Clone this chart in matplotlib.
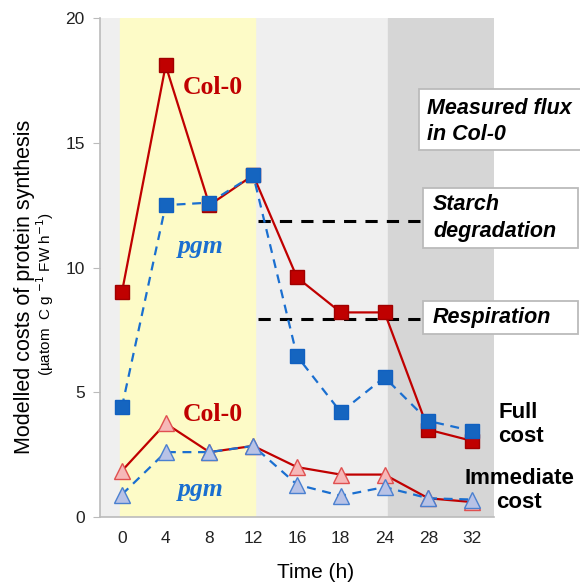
import matplotlib
matplotlib.use("Agg")
import matplotlib.pyplot as plt
from matplotlib.patches import Rectangle
import numpy as np

times = ["0", "4", "8", "12", "16", "18", "24", "28", "32"]
col0_full = [9.0, 18.1, 12.5, 13.7, 9.6, 8.2, 8.2, 3.5, 3.05]
pgm_full = [4.4, 12.5, 12.6, 13.7, 6.45, 4.2, 5.6, 3.85, 3.45]
col0_imm = [1.85, 3.75, 2.6, 2.85, 2.0, 1.7, 1.7, 0.75, 0.6]
pgm_imm = [0.9, 2.6, 2.6, 2.85, 1.3, 0.85, 1.2, 0.75, 0.7]
starch_level = 11.86
resp_level = 7.94

plt.rcParams['font.family'] = ['Liberation Sans', 'DejaVu Sans']

W, H = 580, 586
fig = plt.figure(figsize=(5.8, 5.86), dpi=100)
ax = fig.add_axes([100/W, 1-517/H, 394/W, (517-18)/H])

def fx(px):
    return px / W

def fy(py):
    return 1 - py / H

x = np.arange(len(times))
ax.set_xlim(-0.5, 8.5)
ax.set_ylim(0, 20)

ax.axvspan(-0.5, 8.5, color='#efefef', zorder=0)
ax.axvspan(-0.05, 3.03, color='#fdfbc7', zorder=0.5)
ax.axvspan(6.08, 8.5, color='#d6d6d6', zorder=0.5)

red = '#c00000'
blue = '#1a6fd0'

ax.hlines([starch_level, resp_level], 3.11, 6.9, colors='black', linestyles=(0, (4, 3)), lw=2.2, zorder=2,
          clip_on=False)

ax.plot(x, col0_full, color=red, lw=1.6, marker='s', ms=10, mfc=red, mec='#a00000', zorder=3)
ax.plot(x, pgm_full, color=blue, lw=1.6, ls=(0, (4, 3)), marker='s', ms=10, mfc='#1565c0', mec='#1060c0', zorder=4)
ax.plot(x, col0_imm, color=red, lw=1.6, marker='^', ms=12, mfc='#f6b8b8', mec='#e05050', zorder=3)
ax.plot(x, pgm_imm, color=blue, lw=1.6, ls=(0, (4, 3)), marker='^', ms=12, mfc='#b8c2e6', mec='#4a80d0', zorder=4)

ax.set_xticks(x)
ax.set_xticklabels(times)
ax.set_yticks([0, 5, 10, 15, 20])
ax.tick_params(axis='x', length=0, labelsize=12.5, pad=10, colors='#222222')
ax.tick_params(axis='y', length=5, color='#bbbbbb', labelsize=12.5, pad=6, colors='#222222')
for s in ['top', 'right']:
    ax.spines[s].set_visible(False)
for s in ['left', 'bottom']:
    ax.spines[s].set_color('#bbbbbb')
    ax.spines[s].set_linewidth(1.2)

fig.text(fx(316), fy(572), "Time (h)", fontsize=15, ha='center', va='center')
fig.text(fx(25), fy(287), "Modelled costs of protein synthesis", rotation=90,
         fontsize=15.5, ha='center', va='center')
fig.text(fx(45), fy(294), "(µatom  C g $^{-1}$ FW h$^{-1}$)", rotation=90,
         fontsize=11, ha='center', va='center')

serif = ['Liberation Serif', 'DejaVu Serif']
ax.text(1.38, 17.2, "Col-0", color=red, fontsize=18.5, fontweight='bold', family=serif, ha='left', va='center')
ax.text(1.38, 4.1, "Col-0", color=red, fontsize=18.5, fontweight='bold', family=serif, ha='left', va='center')
ax.text(1.28, 10.85, "pgm", color=blue, fontsize=18.5, fontweight='bold', fontstyle='italic', family=serif, ha='left', va='center')
ax.text(1.28, 1.1, "pgm", color=blue, fontsize=18.5, fontweight='bold', fontstyle='italic', family=serif, ha='left', va='center')

def box(x0, y0, x1, y1):
    fig.patches.append(Rectangle((fx(x0), fy(y1)), fx(x1) - fx(x0), fy(y0) - fy(y1),
                                 transform=fig.transFigure, fc='white', ec='#bbbbbb', lw=1.3, zorder=5))

box(419, 89, 585, 150)
box(423, 188, 578, 248)
box(423, 301, 578, 334)

tkw = dict(fontsize=15.5, fontweight='bold', fontstyle='italic', ha='left', va='center', zorder=6)
fig.text(fx(427), fy(108), "Measured flux", **tkw)
fig.text(fx(427), fy(135), "in Col-0", **tkw)
fig.text(fx(433), fy(205), "Starch", **tkw)
fig.text(fx(433), fy(231), "degradation", **tkw)
fig.text(fx(433), fy(318), "Respiration", **tkw)

bkw = dict(fontsize=16, fontweight='bold', va='center')
fig.text(fx(498), fy(413), "Full", ha='left', **bkw)
fig.text(fx(498), fy(437), "cost", ha='left', **bkw)
fig.text(fx(519), fy(479), "Immediate", ha='center', **bkw)
fig.text(fx(519), fy(503), "cost", ha='center', **bkw)

fig.savefig("out.png", dpi=100)
